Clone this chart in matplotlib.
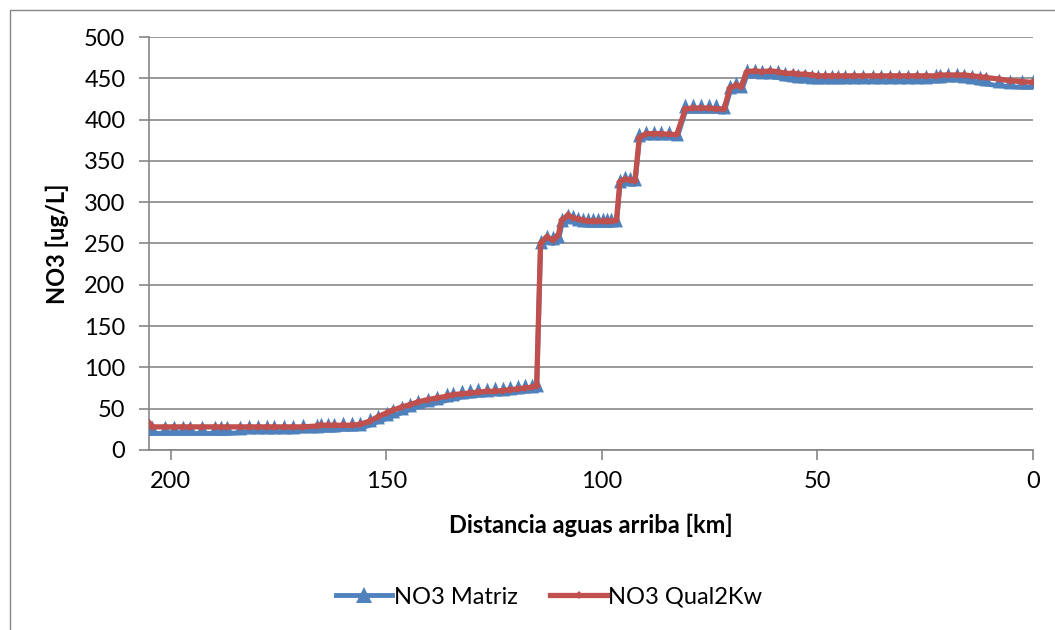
import numpy as np
import matplotlib.pyplot as plt
from matplotlib.patches import Rectangle
from matplotlib.lines import Line2D

plt.rcParams['font.family'] = ['Lato', 'DejaVu Sans']

# distance upstream [km]
dist_km = [205.0, 204.2, 201.4, 199.3, 197.2, 195.4, 192.6, 189.8, 188.2, 186.8,
           184.0, 181.9, 179.8, 177.7, 175.9, 173.8, 171.7, 169.4, 166.1, 165.0,
           163.6, 162.0, 160.1, 158.0, 156.1, 153.8, 152.0, 149.9, 148.5, 146.4,
           144.5, 142.7, 140.4, 138.3, 136.0, 134.6, 132.5, 130.6, 128.8, 126.7,
           124.8, 123.0, 121.3, 119.5, 117.9, 116.2, 115.1,
           114.2, 112.8, 111.3, 110.1, 109.3, 107.8, 106.7, 105.5, 104.3, 103.2,
           102.0, 100.9, 99.7, 98.8, 97.8, 96.6,
           95.8, 94.7, 93.5, 92.3,
           91.3, 89.8, 88.0, 86.2, 84.4, 82.6,
           80.6, 78.8, 77.0, 75.2, 73.4, 71.6,
           70.3, 68.8, 67.6,
           66.4, 64.5, 62.9, 61.0, 59.2, 57.5, 55.6, 54.5, 52.9, 51.3,
           49.8, 48.3, 46.7, 45.2, 43.5, 41.5, 39.5, 37.2, 35.3, 33.2,
           31.1, 28.9, 26.8, 24.7, 22.5, 21.6, 19.7, 17.7, 15.9, 14.1,
           12.3, 10.9, 7.8, 5.3, 2.6, 0.0]

no3_qual2kw = [33, 28, 28, 28, 28, 28, 28, 28, 28, 28,
               28, 28, 28, 28, 28, 28, 28, 28, 29, 30,
               30, 30, 30, 30, 31, 35, 40, 45, 48, 52,
               55, 58, 61, 63, 65, 67, 68, 69, 70, 71,
               71, 72, 73, 74, 75, 76, 78,
               250, 258, 254, 260, 278, 284, 281, 280, 278, 277,
               277, 277, 277, 277, 277, 278,
               325, 328, 327, 326,
               378, 383, 383, 383, 382, 382,
               413, 414, 414, 414, 413, 413,
               438, 442, 440,
               458, 459, 458, 459, 458, 456, 456, 455, 455, 454,
               453, 453, 453, 453, 453, 453, 453, 453, 453, 453,
               453, 453, 453, 453, 453, 454, 454, 454, 454, 453,
               452, 451, 449, 447, 446, 445]

no3_matriz = [20, 20, 20, 20, 20, 20, 20, 20, 20, 20,
              21, 22, 22, 22, 22, 22, 22, 23, 23, 24,
              24, 24, 25, 25, 26, 30, 34, 38, 41, 45,
              49, 52, 55, 57, 60, 62, 64, 65, 66, 67,
              68, 68, 69, 70, 71, 72, 73,
              246, 252, 250, 253, 272, 277, 276, 274, 273, 272,
              272, 272, 272, 272, 272, 273,
              320, 323, 322, 322,
              375, 378, 378, 378, 378, 377,
              410, 410, 410, 410, 410, 409,
              433, 437, 435,
              453, 453, 452, 452, 451, 449, 448, 447, 447, 446,
              446, 446, 446, 446, 446, 446, 446, 446, 446, 446,
              446, 446, 446, 446, 447, 447, 448, 448, 447, 446,
              444, 443, 441, 440, 439, 439]

blue = '#4F81BD'
red = '#C0504D'

# tall triangle sitting on the data point, like the Excel markers
tri = [(0, 1.0), (-0.5, -0.15), (0.5, -0.15), (0, 1.0)]

fig = plt.figure(figsize=(10.55, 6.3), dpi=100)
ax = fig.add_axes([149 / 1055, 180 / 630, 884 / 1055, 413 / 630])

# outer chart border (Excel chart area)
fig.patches.append(Rectangle((10 / 1055, -0.2), 1.2, 1.2 - 10 / 630,
                             transform=fig.transFigure, fill=False,
                             edgecolor='#868686', linewidth=1.0))

ax.plot(dist_km, no3_matriz, color=blue, linewidth=3.5, marker=tri,
        markersize=18.5, markeredgewidth=0, zorder=3)
ax.plot(dist_km, no3_qual2kw, color=red, linewidth=3.8, marker='D',
        markersize=4, markeredgewidth=0, zorder=4)

ax.set_xlim(205, 0)
ax.set_ylim(0, 500)
ax.set_yticks(np.arange(0, 501, 50))
ax.set_xticks([200, 150, 100, 50, 0])

ax.grid(axis='y', color='#878787', linewidth=1.2)
ax.set_axisbelow(True)
for side in ['top', 'right']:
    ax.spines[side].set_visible(False)
for side in ['left', 'bottom']:
    ax.spines[side].set_color('#868686')
    ax.spines[side].set_linewidth(1.2)

ax.tick_params(axis='both', colors='#868686', labelcolor='black',
               labelsize=17, length=7, width=1.2)
ax.tick_params(axis='y', pad=10)
ax.tick_params(axis='x', pad=8)

ax.set_ylabel('NO3 [ug/L]', fontsize=17, fontweight='bold', labelpad=11)
ax.set_xlabel('Distancia aguas arriba [km]', fontsize=17, fontweight='bold',
              labelpad=16)

handles = [Line2D([], [], color=blue, linewidth=3.5, marker='^',
                  markersize=11, markeredgewidth=0),
           Line2D([], [], color=red, linewidth=3.8, marker='D',
                  markersize=4, markeredgewidth=0)]
fig.legend(handles, ['NO3 Matriz', 'NO3 Qual2Kw'], loc='center',
           bbox_to_anchor=(549 / 1055, 1 - 597 / 630), ncol=2,
           frameon=False, fontsize=17, handlelength=2.4, columnspacing=1.4,
           handletextpad=0.05)

fig.savefig('out.png', dpi=100)
